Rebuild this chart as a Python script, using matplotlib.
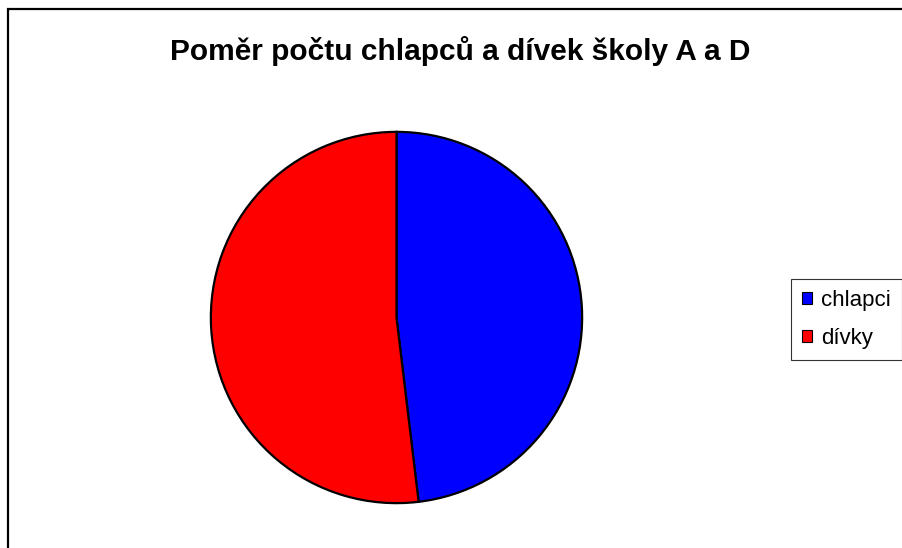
import matplotlib
matplotlib.use('Agg')
import matplotlib.pyplot as plt
from matplotlib.patches import Rectangle, Patch

plt.rcParams['font.family'] = ['Liberation Sans', 'DejaVu Sans']

# Data
categories = ['chlapci', 'dívky']
values = [48.1, 51.9]
colors = ['#0000ff', '#ff0000']
title = 'Poměr počtu chlapců a dívek školy A a D'

W, H = 902, 548
fig = plt.figure(figsize=(W / 100, H / 100), dpi=100)

# Pie area in pixels: x 209..584, y 130..505
ax = fig.add_axes([209 / W, (H - 505) / H, 375 / W, 375 / H])
ax.pie(values, colors=colors, startangle=90, counterclock=False, radius=1,
       wedgeprops=dict(edgecolor='black', linewidth=1.6))
ax.set_xlim(-1.01, 1.01)
ax.set_ylim(-1.01, 1.01)
ax.set_aspect('auto')
ax.axis('off')

# Title
fig.text(460 / W, 1 - 51 / H, title, ha='center', va='center',
         fontsize=21.5, fontweight='bold')

# Outer chart border (only left/top visible in the crop)
fig.add_artist(Rectangle((8 / W, -0.1), 1.2, 1.1 - 9 / H,
                         transform=fig.transFigure, fill=False,
                         edgecolor='black', linewidth=1.6))

# Legend
handles = [Patch(facecolor=c, edgecolor='black', linewidth=0.8) for c in colors]
leg = fig.legend(handles, categories, loc='upper left',
                 bbox_to_anchor=(791 / W, 1 - 279 / H),
                 fontsize=16, frameon=True, fancybox=False,
                 handlelength=0.45, handleheight=0.45, handletextpad=0.4,
                 labelspacing=0.75, borderpad=0.5, borderaxespad=0)
leg.get_frame().set_edgecolor('black')
leg.get_frame().set_linewidth(0.8)

fig.savefig('out.png', dpi=100)
